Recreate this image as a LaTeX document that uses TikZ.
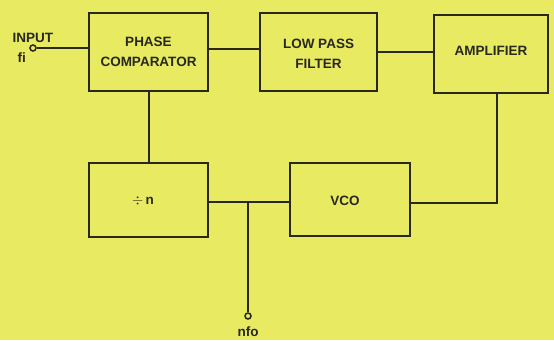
\documentclass[tikz,border=0pt]{standalone}
\usepackage{fontspec}
\setmainfont{Liberation Sans}
\definecolor{bg}{RGB}{232,234,98}
\definecolor{ink}{RGB}{40,40,30}
\begin{document}
\begin{tikzpicture}[x=1pt,y=-1pt,
  blk/.style={draw=ink,line width=2.2pt,minimum width=0pt,inner sep=0pt},
  wire/.style={draw=ink,line width=2.2pt},
  lbl/.style={text=ink,font=\fontsize{13.5}{20}\selectfont\bfseries,align=center},
  term/.style={circle,draw=ink,line width=1.5pt,inner sep=0pt,minimum size=6pt,fill=bg}]
\fill[bg] (0,0) rectangle (554,340);
\useasboundingbox (0,0) rectangle (554,340);
% blocks
\draw[blk] (89,13) rectangle (208,91);
\node[lbl] (pc) at (148.5,52) {PHASE\\COMPARATOR};
\coordinate (pcL) at (89,48);
\coordinate (pcR) at (208,49);
\coordinate (pcB) at (149,91);
\draw[blk] (260,13) rectangle (377,91);
\node[lbl] (lpf) at (318.5,54) {LOW PASS\\FILTER};
\coordinate (lpfL) at (260,49);
\coordinate (lpfR) at (377,52);
\draw[blk] (434,15) rectangle (548,93);
\node[lbl] (amp) at (491,51) {AMPLIFIER};
\coordinate (ampL) at (434,52);
\coordinate (ampB) at (497,93);
\draw[blk] (89,163) rectangle (208,237);
\node[lbl] (div) at (143,201) {$\div$\,n};
\coordinate (divT) at (149,163);
\coordinate (divR) at (208,202);
\draw[blk] (290,163) rectangle (410,236);
\node[lbl] (vco) at (345,201) {VCO};
\coordinate (vcoL) at (290,202);
\coordinate (vcoR) at (410,203);
% terminals
\node[term] (in) at (33,48) {};
\node[lbl,anchor=base west] (inlbl) at (9,42) {INPUT};
\node[lbl,anchor=base west] (filbl) at (14,62) {fi};
\coordinate (j) at (248,202);
\node[term] (out) at (248,316) {};
\node[lbl,anchor=base] (outlbl) at (248,336) {nfo};
% wires
\draw[wire] (in) -- (pcL);
\draw[wire] (pcR) -- (lpfL);
\draw[wire] (lpfR) -- (ampL);
\draw[wire] (ampB) |- (vcoR);
\draw[wire] (pcB) -- (divT);
\draw[wire] (divR) -- (vcoL);
\draw[wire] (j) -- (out);
\end{tikzpicture}
\end{document}
